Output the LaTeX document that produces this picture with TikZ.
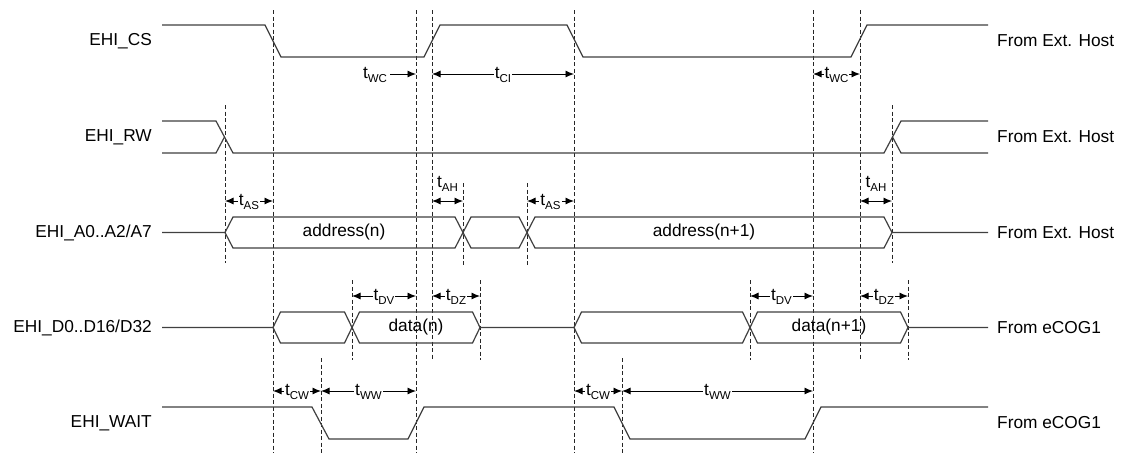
\documentclass[tikz,border=0pt]{standalone}
\usepackage{fontspec}
\setmainfont{Liberation Sans}
\usetikzlibrary{arrows.meta}
\newcommand\tlab[1]{t\raisebox{-3.5pt}{\fontsize{11.5}{11.5}\selectfont #1}}
\tikzset{
  sig/.style={line width=1.2pt, draw=black!75, line join=miter},
  guide/.style={line width=0.8pt, draw=black!85, dash pattern=on 4pt off 2.5pt},
  dim/.style={line width=0.9pt, draw=black, {Latex[length=8.5pt,width=7pt]}-{Latex[length=8.5pt,width=7pt]}},
  dimr/.style={line width=0.9pt, draw=black, -{Latex[length=8.5pt,width=7pt]}},
  dlab/.style={fill=white, inner sep=1pt, font=\fontsize{17.3}{20}\selectfont},
  plab/.style={inner sep=1pt, font=\fontsize{17.3}{20}\selectfont},
  sname/.style={anchor=east, inner sep=0pt, font=\fontsize{17.3}{20}\selectfont},
  src/.style={anchor=west, inner sep=0pt, font=\fontsize{17.3}{20}\selectfont},
}
\begin{document}
\begin{tikzpicture}[x=1pt,y=-1pt]
\useasboundingbox[fill=white] (0,0) rectangle (1122,453);

% guide lines
\draw[guide] (273,10) -- (273,453);
\draw[guide] (416,10) -- (416,453);
\draw[guide] (432,10) -- (432,360);
\draw[guide] (574,10) -- (574,453);
\draw[guide] (813,10) -- (813,453);
\draw[guide] (860,10) -- (860,360);
\draw[guide] (225,105) -- (225,263);
\draw[guide] (892,105) -- (892,263);
\draw[guide] (463,183) -- (463,265);
\draw[guide] (527,183) -- (527,265);
\draw[guide] (352,280) -- (352,360);
\draw[guide] (480,280) -- (480,360);
\draw[guide] (750,280) -- (750,360);
\draw[guide] (908,280) -- (908,360);
\draw[guide] (321,358) -- (321,453);
\draw[guide] (622,358) -- (622,453);

% signal names
\node[sname] (ncs) at (152,41) {EHI\_CS};
\node[sname] (nrw) at (152,137) {EHI\_RW};
\node[sname] (na) at (152,232.5) {EHI\_A0..A2/A7};
\node[sname] (nd) at (152,327.5) {EHI\_D0..D16/D32};
\node[sname] (nw) at (152,423) {EHI\_WAIT};

\node[src] (scs) at (997,41) {From Ext. Host};
\node[src] (srw) at (997,137) {From Ext. Host};
\node[src] (sa) at (997,232.5) {From Ext. Host};
\node[src] (sd) at (997,327.5) {From eCOG1};
\node[src] (sw) at (997,423) {From eCOG1};

% EHI_CS
\draw[sig] (162,25) -- (265,25) -- (281,57) -- (424,57) -- (440,25) -- (567,25) -- (583,57) -- (851,57) -- (867,25) -- (988,25);

% EHI_RW
\draw[sig] (162,121) -- (216,121) -- (233,153) -- (884,153) -- (901,121) -- (988,121);
\draw[sig] (162,153) -- (216,153) -- (224.5,137);
\draw[sig] (892.5,137) -- (901,153) -- (988,153);

% EHI_A bus
\draw[sig] (162,232.5) -- (225,232.5) -- (233,217) -- (455,217) -- (471,248) -- (519,248) -- (535,217) -- (884,217) -- (892,232.5) -- (988,232.5);
\draw[sig] (225,232.5) -- (233,248) -- (455,248) -- (471,217) -- (519,217) -- (535,248) -- (884,248) -- (892,232.5);
\node[plab] (an) at (344,232.5) {address(n)};
\node[plab] (an1) at (704,232.5) {address(n+1)};

% EHI_D bus
\draw[sig] (162,327.5) -- (273,327.5) -- (280.5,312) -- (344.5,312) -- (359.5,343) -- (472.5,343) -- (480,327.5) -- (574,327.5) -- (581.5,312) -- (742.5,312) -- (757.5,343) -- (900.5,343) -- (908,327.5) -- (988,327.5);
\draw[sig] (273,327.5) -- (280.5,343) -- (344.5,343) -- (359.5,312) -- (472.5,312) -- (480,327.5);
\draw[sig] (574,327.5) -- (581.5,343) -- (742.5,343) -- (757.5,312) -- (900.5,312) -- (908,327.5);
\node[plab] (dn) at (416,327.5) {data(n)};
\node[plab] (dn1) at (829,327.5) {data(n+1)};

% EHI_WAIT
\draw[sig] (162,407) -- (312,407) -- (329,439) -- (408,439) -- (424,407) -- (614,407) -- (630,439) -- (805,439) -- (821,407) -- (988,407);

% timing dimensions: CS row
\node[dlab] (twc1) at (375,75) {\tlab{WC}};
\draw[dimr] (twc1.east) ++(2,-1) -- (416,74);
\draw[dim] (432,74) -- (574,74);
\node[dlab] (tci) at (503,75) {\tlab{CI}};
\draw[dim] (813,74) -- (860,74);
\node[dlab] (twc2) at (836.5,75) {\tlab{WC}};

% A row
\draw[dim] (225,201) -- (273,201);
\node[dlab] (tas1) at (249,202) {\tlab{AS}};
\draw[dim] (432,201) -- (463,201);
\node[plab] (tah1) at (447.5,184) {\tlab{AH}};
\draw[dim] (527,201) -- (574,201);
\node[dlab] (tas2) at (550.5,202) {\tlab{AS}};
\draw[dim] (860,201) -- (892,201);
\node[plab] (tah2) at (876,184) {\tlab{AH}};

% D row
\draw[dim] (352,296) -- (416,296);
\node[dlab] (tdv1) at (384,297) {\tlab{DV}};
\draw[dim] (432,296) -- (480,296);
\node[dlab] (tdz1) at (456,297) {\tlab{DZ}};
\draw[dim] (750,296) -- (813,296);
\node[dlab] (tdv2) at (781.5,297) {\tlab{DV}};
\draw[dim] (860,296) -- (908,296);
\node[dlab] (tdz2) at (884,297) {\tlab{DZ}};

% WAIT row
\draw[dim] (273,391) -- (321,391);
\node[dlab] (tcw1) at (297,392) {\tlab{CW}};
\draw[dim] (321,391) -- (416,391);
\node[dlab] (tww1) at (368.5,392) {\tlab{WW}};
\draw[dim] (574,391) -- (622,391);
\node[dlab] (tcw2) at (598,392) {\tlab{CW}};
\draw[dim] (622,391) -- (813,391);
\node[dlab] (tww2) at (717.5,392) {\tlab{WW}};
\end{tikzpicture}
\end{document}
